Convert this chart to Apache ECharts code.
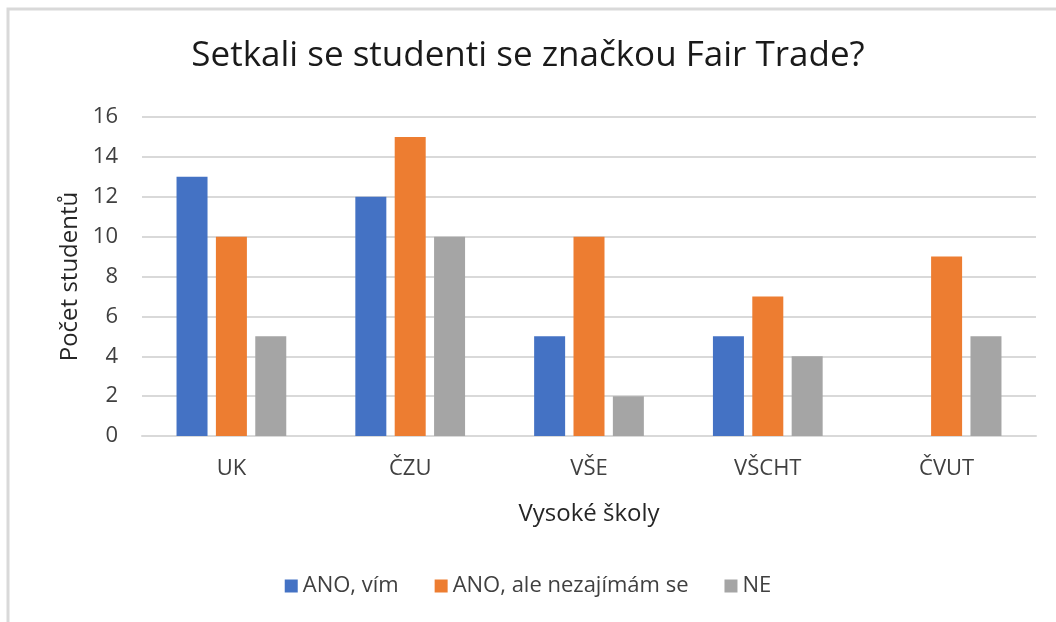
<!DOCTYPE html>
<html>
<head>
<meta charset="utf-8">
<script src="https://cdn.jsdelivr.net/npm/echarts@6/dist/echarts.min.js"></script>
<style>
  html, body { margin: 0; padding: 0; background: #fff; }
  #chart { width: 1056px; height: 622px; }
</style>
</head>
<body>
<div id="chart"></div>
<script>
var categories = ['UK', 'ČZU', 'VŠE', 'VŠCHT', 'ČVUT']
var anoVim = [13, 12, 5, 5, 0]
var anoNezajimam = [10, 15, 10, 7, 9]
var ne = [5, 10, 2, 4, 5]
var seriesNames = ['ANO, vím', 'ANO, ale nezajímám se', 'NE']

var font = 'Open Sans'
var chartDom = document.getElementById('chart')
var myChart = echarts.init(chartDom)

var barStyle = function (color) {
  return {
    type: 'bar',
    barWidth: 31,
    barGap: '27%',
    itemStyle: { color: color },
  }
}

var option = {
  backgroundColor: '#fff',
  animation: false,
  textStyle: { fontFamily: font },
  graphic: [
    {
      type: 'polyline',
      shape: { points: [[8, 622], [8, 9], [1056, 9]] },
      style: { stroke: '#d9d9d9', lineWidth: 3, fill: null },
    },
  ],
  title: {
    text: 'Setkali se studenti se značkou Fair Trade?',
    left: 'center',
    top: 34,
    textStyle: { fontFamily: font, fontSize: 35, fontWeight: 'normal', color: '#1a1a1a' },
  },
  legend: {
    bottom: 20,
    left: 'center',
    itemWidth: 13,
    itemHeight: 13,
    itemGap: 36,
    icon: 'rect',
    textStyle: { fontFamily: font, fontSize: 22, color: '#404040' },
    data: seriesNames,
  },
  grid: { left: 142, right: 20, top: 117, bottom: 186 },
  xAxis: {
    type: 'category',
    data: categories,
    name: 'Vysoké školy',
    nameLocation: 'middle',
    nameGap: 66,
    nameTextStyle: { fontFamily: font, fontSize: 24, color: '#262626' },
    axisLine: { lineStyle: { color: '#d9d9d9', width: 2 } },
    axisTick: { show: false },
    axisLabel: { fontSize: 22, color: '#404040', margin: 22 },
  },
  yAxis: {
    type: 'value',
    min: 0,
    max: 16,
    interval: 2,
    name: 'Počet studentů',
    nameLocation: 'middle',
    nameGap: 60,
    nameTextStyle: { fontFamily: font, fontSize: 24, color: '#262626' },
    axisLabel: { fontSize: 22, color: '#404040', margin: 24 },
    splitLine: { lineStyle: { color: '#d9d9d9', width: 2 } },
  },
  series: [
    Object.assign(barStyle('#4472C4'), { name: seriesNames[0], data: anoVim }),
    Object.assign(barStyle('#ED7D31'), { name: seriesNames[1], data: anoNezajimam }),
    Object.assign(barStyle('#A5A5A5'), { name: seriesNames[2], data: ne }),
  ],
}

option && myChart.setOption(option)
</script>
</body>
</html>
